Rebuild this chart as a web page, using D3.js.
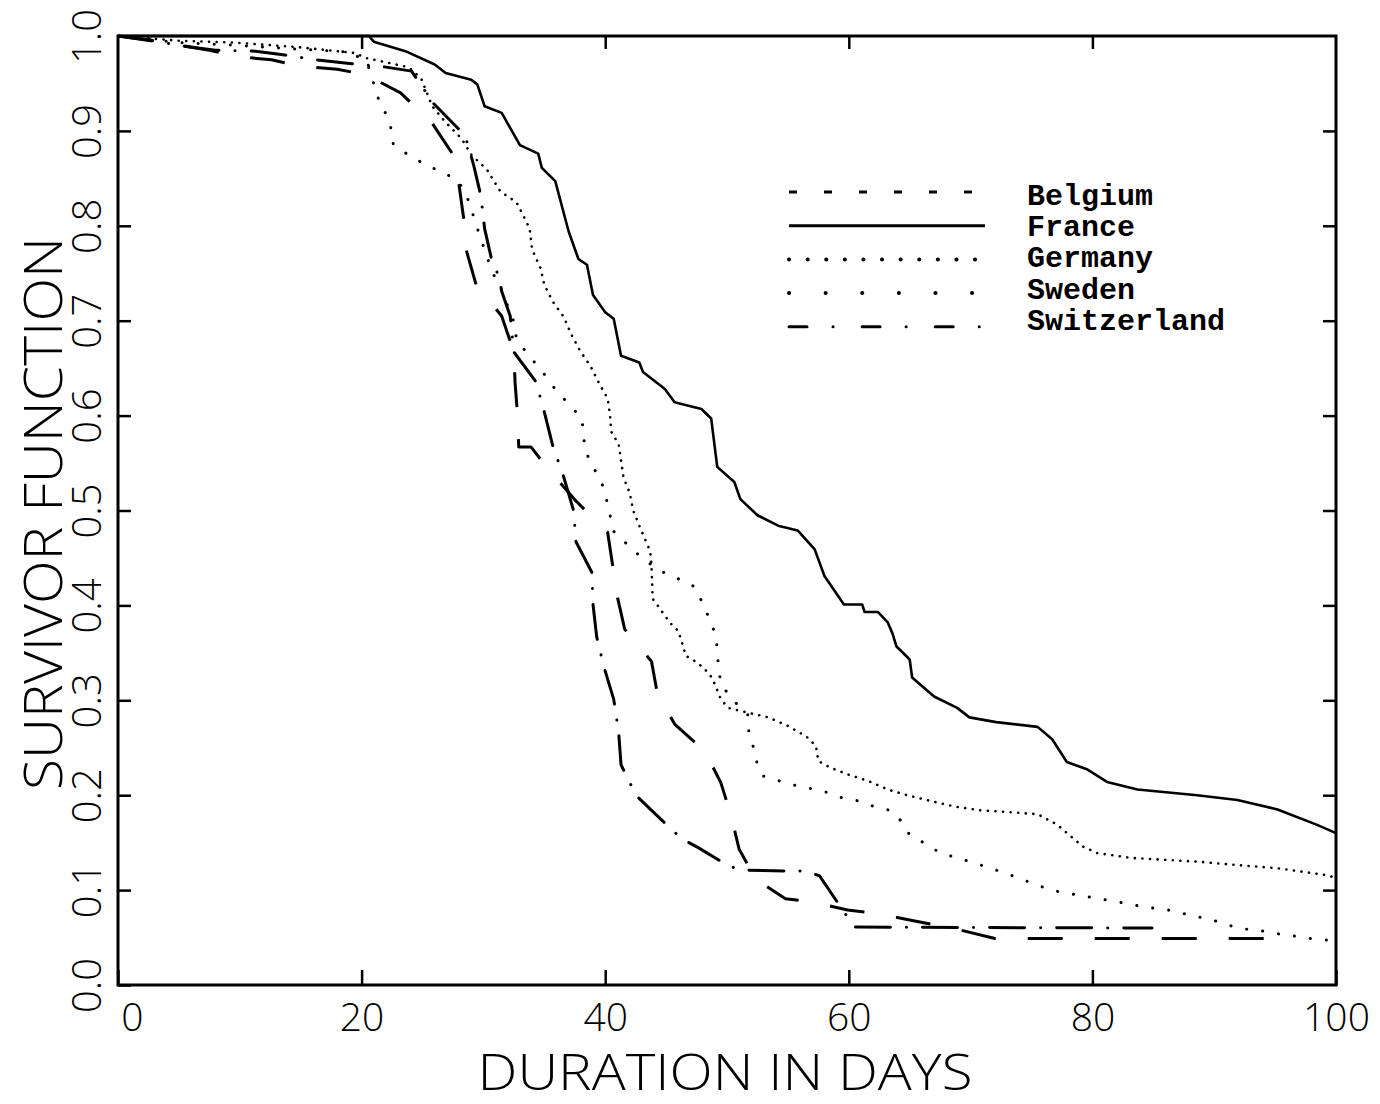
<!DOCTYPE html>
<html>
<head>
<meta charset="utf-8">
<script src="https://cdn.jsdelivr.net/npm/d3@7"></script>
<style>
  body { margin: 0; background: #fff; }
  svg { display: block; }
</style>
</head>
<body>
<svg id="chart"></svg>
<script>
// survivor curves: [day, survivor function]
var belgium = [[0,1.0],[3.3,0.994],[7.5,0.985],[10,0.978],[12.6,0.975],[15,0.968],[18,0.965],[20.4,0.959],
  [23.2,0.94],[25.7,0.91],[27.5,0.875],[28,0.843],[28.4,0.806],[28.6,0.774],[29.4,0.738],[31.5,0.705],
  [32.5,0.667],[32.6,0.635],[32.8,0.601],[32.9,0.567],[33.9,0.567],[35.3,0.544],[37.6,0.51],[40.2,0.477],
  [40.6,0.443],[41,0.409],[41.6,0.375],[43.8,0.341],[44.3,0.306],[45.7,0.275],[48.2,0.246],[49.5,0.213],
  [50.3,0.18],[51,0.143],[52.4,0.111],[54.8,0.091],[57.2,0.087],[59.9,0.079],[62.5,0.075],[65.2,0.068],
  [68.5,0.06],[72,0.049],[96.2,0.049]];

var france = [[0,1.0],[20.6,1.0],[21,0.994],[23.6,0.984],[26,0.97],[26.9,0.961],[29,0.954],[29.5,0.949],
  [30.1,0.926],[31.5,0.919],[33,0.885],[34.5,0.876],[34.8,0.861],[35.9,0.847],[37,0.794],[37.8,0.765],
  [38.5,0.759],[39,0.727],[40,0.709],[40.7,0.702],[41.3,0.663],[42.8,0.656],[43.1,0.646],[44.9,0.628],
  [45.7,0.614],[47.9,0.607],[48.7,0.597],[49.2,0.546],[50.6,0.53],[51.1,0.512],[52.5,0.495],[54.2,0.484],
  [55.8,0.479],[57.2,0.459],[58,0.431],[59.6,0.401],[61.1,0.401],[61.3,0.393],[62.4,0.393],[63.2,0.382],
  [63.6,0.37],[63.9,0.357],[65,0.343],[65.2,0.324],[67,0.304],[68.9,0.292],[69.9,0.282],[72.1,0.277],
  [75.5,0.272],[76.7,0.259],[77.9,0.235],[79.6,0.227],[81.2,0.214],[83.7,0.206],[88.6,0.2],[91.9,0.195],
  [95.2,0.185],[98.4,0.169],[99.3,0.164],[100,0.16]];

var germany = [[0,1.0],[5,0.995],[9.6,0.993],[15,0.988],[19.5,0.982],[20.3,0.977],[23.9,0.967],[24.9,0.955],
  [25.8,0.926],[26.9,0.909],[28.2,0.892],[29,0.875],[30.3,0.859],[31.4,0.836],[32.7,0.825],[33.3,0.81],
  [33.8,0.797],[34,0.775],[34.7,0.755],[35,0.738],[35.7,0.72],[36.6,0.704],[37.2,0.686],[37.9,0.669],
  [38.8,0.652],[39.5,0.634],[40.2,0.618],[40.4,0.6],[40.5,0.583],[41.1,0.57],[41.3,0.553],[41.5,0.535],
  [42,0.519],[42.3,0.5],[42.8,0.484],[43.4,0.466],[43.7,0.457],[43.8,0.442],[43.9,0.407],[44.3,0.4],
  [45.3,0.382],[46,0.373],[46.4,0.357],[46.6,0.347],[47.4,0.341],[48,0.335],[48.6,0.327],[49,0.317],
  [49.5,0.301],[50.1,0.292],[51.7,0.287],[53.4,0.282],[55,0.273],[56.5,0.262],[57.3,0.252],[57.5,0.236],
  [58.5,0.229],[59.9,0.222],[61.6,0.215],[63.2,0.206],[64.8,0.2],[66.7,0.194],[68.7,0.188],[70.8,0.184],
  [72.2,0.183],[75.5,0.18],[77.1,0.169],[79.2,0.146],[80.4,0.139],[83.1,0.134],[88.6,0.13],[91.3,0.127],
  [95.2,0.123],[99.1,0.116],[100,0.113]];

var sweden = [[0,1.0],[5,0.993],[10,0.99],[15,0.986],[19.2,0.983],[20.5,0.97],[21.5,0.929],[22,0.918],
  [22.4,0.903],[22.6,0.886],[23.9,0.874],[25.2,0.865],[26.5,0.857],[27.8,0.849],[28.5,0.836],[29,0.818],
  [29.4,0.801],[29.8,0.786],[30.7,0.752],[31.4,0.735],[32.5,0.699],[32.7,0.682],[33.6,0.665],[34.7,0.649],
  [35.7,0.631],[36.8,0.615],[38.1,0.597],[38.2,0.579],[38.4,0.562],[39,0.546],[39.7,0.53],[40.1,0.512],
  [40.4,0.495],[40.7,0.478],[42,0.462],[43.2,0.448],[44.6,0.436],[46,0.428],[47.3,0.42],[48.1,0.4],
  [48.6,0.384],[49.1,0.368],[49.2,0.351],[49.3,0.335],[49.5,0.317],[50.5,0.3],[51.7,0.285],[51.8,0.266],
  [52.2,0.249],[52.5,0.232],[53,0.22],[54.3,0.215],[55.7,0.21],[56.9,0.207],[58.2,0.203],[59.5,0.197],
  [60.8,0.194],[62.1,0.188],[63.4,0.184],[64.3,0.173],[65,0.158],[66.3,0.149],[67.5,0.139],[68.9,0.134],
  [70.2,0.129],[71.4,0.124],[72.8,0.118],[74.1,0.112],[75.3,0.106],[76.6,0.1],[77.8,0.097],[79.2,0.094],
  [80.5,0.091],[81.9,0.088],[83.1,0.085],[84.4,0.082],[85.6,0.08],[86.8,0.078],[88.1,0.073],[89.4,0.07],
  [90.8,0.065],[91.9,0.06],[93.2,0.058],[94.5,0.056],[95.6,0.053],[97,0.051],[98.4,0.048],[99.6,0.047]];

var switzerland = [[0,1.0],[3,0.995],[5,0.99],[8,0.985],[11.3,0.984],[13.7,0.98],[16.2,0.975],[19,0.971],
  [21.6,0.968],[24.1,0.963],[25.9,0.929],[28.5,0.895],[29.2,0.864],[29.8,0.831],[30.1,0.797],[30.7,0.763],
  [31.3,0.746],[31.5,0.731],[32.2,0.705],[32.5,0.667],[34.3,0.636],[35,0.604],[35.7,0.568],[36.6,0.535],
  [37.4,0.5],[37.6,0.467],[38.9,0.435],[39,0.401],[39.3,0.367],[39.9,0.335],[40.7,0.301],[41.1,0.267],
  [41.3,0.232],[42,0.214],[42.5,0.2],[45.2,0.167],[46.3,0.154],[47.6,0.145],[50.2,0.125],[51.4,0.121],
  [55.2,0.12],[56.5,0.12],[57.6,0.115],[59.6,0.077],[60.5,0.061],[84.9,0.06]];

var countries = ["Belgium", "France", "Germany", "Sweden", "Switzerland"];
var xTicks = [0, 20, 40, 60, 80, 100];
var yTicks = [0, 0.1, 0.2, 0.3, 0.4, 0.5, 0.6, 0.7, 0.8, 0.9, 1.0];
var xTitle = "DURATION IN DAYS";
var yTitle = "SURVIVOR FUNCTION";

var series = [belgium, france, germany, sweden, switzerland];

// line styles, plot and legend sample
var styles = [
  {width: 3,   dash: "35,32",          legendDash: "8,27",  cap: "butt"},
  {width: 2.6, dash: null,             legendDash: null,    cap: "butt"},
  {width: 2.6, dash: "0.1,7.5",        legendDash: "0.1,18.5", cap: "round"},
  {width: 3,   dash: "0.1,16",         legendDash: "0.1,36.5", cap: "round"},
  {width: 3,   dash: "35,16,0.1,16",   legendDash: "18,26,0.1,29", cap: "round"}
];

var W = 1380, H = 1104;
var svg = d3.select("#chart").attr("width", W).attr("height", H);

var x = d3.scaleLinear().domain([0, 100]).range([118, 1336]);
var y = d3.scaleLinear().domain([0, 1]).range([985, 36]);

var tickFont = "'Open Sans', 'DejaVu Sans', sans-serif";

svg.append("clipPath").attr("id", "clip")
  .append("rect")
  .attr("x", x(0)).attr("y", y(1) - 2)
  .attr("width", x(100) - x(0)).attr("height", y(0) - y(1) + 2);

// curves
var line = d3.line()
  .x(function(d) { return x(d[0]); })
  .y(function(d) { return y(d[1]); });

svg.append("g").attr("clip-path", "url(#clip)")
  .selectAll("path")
  .data(series)
  .enter()
  .append("path")
  .attr("d", line)
  .attr("fill", "none")
  .attr("stroke", "#000")
  .attr("stroke-width", function(d, i) { return styles[i].width; })
  .attr("stroke-dasharray", function(d, i) { return styles[i].dash; })
  .attr("stroke-linecap", function(d, i) { return styles[i].cap; })
  .attr("stroke-linejoin", "round");

// bottom axis
var xAxis = svg.append("g")
  .attr("transform", "translate(0," + y(0) + ")")
  .call(d3.axisBottom(x).tickValues(xTicks).tickSize(-15).tickSizeOuter(0).tickPadding(18));
xAxis.select(".domain").remove();
xAxis.selectAll("line").attr("stroke-width", 2.5);
xAxis.selectAll("text")
  .attr("dx", function(d) { return d === 0 ? 14 : 0; })
  .style("font-family", tickFont)
  .style("font-weight", "300")
  .style("font-size", "39px")
  .attr("fill", "#000");

// top axis
var xTop = svg.append("g")
  .attr("transform", "translate(0," + y(1) + ")")
  .call(d3.axisTop(x).tickValues([20, 40, 60, 80]).tickSize(-13).tickSizeOuter(0).tickFormat(""));
xTop.select(".domain").remove();
xTop.selectAll("line").attr("stroke-width", 2.5);

// left axis
var yAxis = svg.append("g")
  .attr("transform", "translate(" + x(0) + ",0)")
  .call(d3.axisLeft(y).tickValues(yTicks).tickSize(-13).tickSizeOuter(0).tickFormat(d3.format(".1f")));
yAxis.select(".domain").remove();
yAxis.selectAll("line").attr("stroke-width", 2.5);
yAxis.selectAll("text")
  .attr("x", 0)
  .attr("dy", 0)
  .attr("text-anchor", "middle")
  .attr("transform", "translate(-17,0) rotate(-90)")
  .style("font-family", tickFont)
  .style("font-weight", "300")
  .style("font-size", "40px")
  .attr("fill", "#000");

// right axis
var yRight = svg.append("g")
  .attr("transform", "translate(" + x(100) + ",0)")
  .call(d3.axisRight(y).tickValues(yTicks.slice(1, -1)).tickSize(-13).tickSizeOuter(0).tickFormat(""));
yRight.select(".domain").remove();
yRight.selectAll("line").attr("stroke-width", 2.5);

// frame
svg.append("rect")
  .attr("x", x(0)).attr("y", y(1))
  .attr("width", x(100) - x(0)).attr("height", y(0) - y(1))
  .attr("fill", "none")
  .attr("stroke", "#000")
  .attr("stroke-width", 3);

// axis titles
svg.append("text")
  .attr("x", (x(0) + x(100)) / 2 - 2)
  .attr("y", 1090)
  .attr("text-anchor", "middle")
  .attr("textLength", 495)
  .attr("lengthAdjust", "spacingAndGlyphs")
  .style("font-family", tickFont)
  .style("font-weight", "300")
  .style("font-size", "50px")
  .text(xTitle);

svg.append("text")
  .attr("transform", "translate(62," + ((y(0) + y(1)) / 2 + 3) + ") rotate(-90)")
  .attr("text-anchor", "middle")
  .attr("textLength", 553)
  .attr("lengthAdjust", "spacingAndGlyphs")
  .style("font-family", tickFont)
  .style("font-weight", "300")
  .style("font-size", "54px")
  .text(yTitle);

// legend
var legend = svg.append("g").selectAll("g")
  .data(countries)
  .enter()
  .append("g");

legend.append("line")
  .attr("x1", 789).attr("x2", 985)
  .attr("y1", function(d, i) { return 192 + i * 33.7; })
  .attr("y2", function(d, i) { return 192 + i * 33.7; })
  .attr("stroke", "#000")
  .attr("stroke-width", function(d, i) { return i === 2 || i === 3 ? 4 : 3; })
  .attr("stroke-dasharray", function(d, i) { return styles[i].legendDash; })
  .attr("stroke-linecap", function(d, i) { return styles[i].cap; });

legend.append("text")
  .attr("x", 1027)
  .attr("y", function(d, i) { return 205 + i * 31.2; })
  .style("font-family", "'Liberation Mono', 'Courier New', monospace")
  .style("font-weight", "bold")
  .style("font-size", "30px")
  .text(function(d) { return d; });
</script>
</body>
</html>
